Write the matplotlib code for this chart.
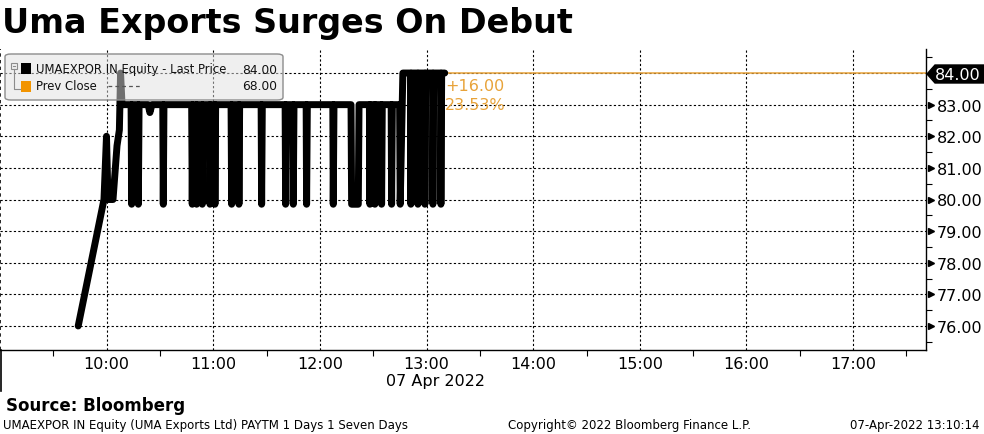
import matplotlib
matplotlib.use('Agg')
import matplotlib.pyplot as plt
import matplotlib.dates as mdates
import matplotlib.transforms as mtransforms
from matplotlib.patches import FancyBboxPatch, Rectangle, Polygon
from matplotlib.lines import Line2D
import pandas as pd

# ---- data ----
day = "2022-04-07"
times = [
    "09:44:00", "09:58:30", "09:59:55", "10:00:45", "10:03:35", "10:05:50",
    "10:07:10", "10:07:50", "10:08:40",
    "10:13:45", "10:14:05", "10:14:30",
    "10:17:30", "10:17:50", "10:18:15",
    "10:23:20", "10:24:20", "10:25:30",
    "10:31:35", "10:31:52", "10:32:15",
    "10:47:50", "10:48:10", "10:48:35",
    "10:50:20", "10:50:38", "10:51:00",
    "10:53:30", "10:53:48", "10:54:10",
    "10:57:50", "10:58:08", "10:58:30",
    "11:00:40", "11:00:56", "11:01:20",
    "11:10:00", "11:10:20", "11:10:45",
    "11:14:10", "11:14:26", "11:14:50",
    "11:26:55", "11:27:12", "11:27:35",
    "11:40:25", "11:40:42", "11:41:05",
    "11:44:45", "11:45:00", "11:45:25",
    "11:52:15", "11:52:30", "11:52:55",
    "12:07:15", "12:07:30", "12:07:55",
    "12:17:30", "12:17:50", "12:21:35", "12:22:00",
    "12:27:50", "12:28:08", "12:28:30",
    "12:30:40", "12:30:56", "12:31:20",
    "12:34:25", "12:34:42", "12:35:05",
    "12:40:05", "12:40:20", "12:40:45",
    "12:44:50", "12:45:10", "12:46:40",
    "12:50:55", "12:51:10", "12:51:35",
    "12:54:50", "12:55:08", "12:55:30",
    "12:58:50", "12:59:04", "12:59:30",
    "13:03:20", "13:03:34", "13:04:00",
    "13:07:50", "13:08:04", "13:08:30",
    "13:10:14",
]
prices = [
    76.0, 80.0, 82.0, 80.0, 80.0, 81.7,
    82.2, 84.0, 83.0,
    83.0, 79.85, 83.0,
    83.0, 79.85, 83.0,
    83.0, 82.75, 83.0,
    83.0, 79.85, 83.0,
    83.0, 79.85, 83.0,
    83.0, 79.85, 83.0,
    83.0, 79.85, 83.0,
    83.0, 79.85, 83.0,
    83.0, 79.85, 83.0,
    83.0, 79.85, 83.0,
    83.0, 79.85, 83.0,
    83.0, 79.85, 83.0,
    83.0, 79.85, 83.0,
    83.0, 79.85, 83.0,
    83.0, 79.85, 83.0,
    83.0, 79.85, 83.0,
    83.0, 79.85, 79.85, 83.0,
    83.0, 79.85, 83.0,
    83.0, 79.85, 83.0,
    83.0, 79.85, 83.0,
    83.0, 79.85, 83.0,
    83.0, 79.85, 84.0,
    84.0, 79.85, 84.0,
    84.0, 79.85, 84.0,
    84.0, 79.85, 84.0,
    84.0, 79.85, 84.0,
    84.0, 79.85, 84.0,
    84.0,
]
last_price = 84.00
prev_close = 68.00
change_txt = "+16.00"
change_pct_txt = "23.53%"
y_ticks = [76, 77, 78, 79, 80, 81, 82, 83, 84]
x_start, x_end = "09:00", "17:41"
y_lo, y_hi = 75.24, 84.76

title = "Uma Exports Surges On Debut"
legend_rows = [("UMAEXPOR IN Equity - Last Price", "84.00"), ("Prev Close", "68.00")]
source = "Source: Bloomberg"
footer_left = "UMAEXPOR IN Equity (UMA Exports Ltd) PAYTM 1 Days 1 Seven Days"
footer_mid = "Copyright\u00a9 2022 Bloomberg Finance L.P."
footer_right = "07-Apr-2022 13:10:14"
date_label = "07 Apr 2022"

ORANGE = '#e8a33a'
SQ_ORANGE = '#f29400'

W, H = 984, 435
fig = plt.figure(figsize=(W / 100, H / 100), dpi=100)
fig.patch.set_facecolor('white')


def fx(px):
    return px / W


def fy(py):
    return 1 - py / H


def ts(s):
    return pd.Timestamp(day + " " + s).to_pydatetime()


ax = fig.add_axes([0, fy(351), fx(926), (351 - 50) / H])
t = [ts(s) for s in times]

ax.plot(t, prices, color='black', lw=5.0, solid_joinstyle='round',
        solid_capstyle='round', zorder=3)
# last price line
ax.plot([t[-1], ts(x_end)], [last_price, last_price], color=ORANGE, lw=1.1, zorder=2)

ax.set_xlim(ts(x_start), ts(x_end))
ax.set_ylim(y_lo, y_hi)

# grid
ax.set_yticks(y_ticks)
ax.set_yticklabels(["%.2f" % v if v != last_price else "" for v in y_ticks])
ax.yaxis.set_minor_locator(matplotlib.ticker.MultipleLocator(0.5))
ax.xaxis.set_major_locator(mdates.HourLocator(byhour=range(10, 18)))
ax.xaxis.set_minor_locator(mdates.MinuteLocator(byminute=[30]))
ax.xaxis.set_major_formatter(mdates.DateFormatter('%H:%M'))
ax.grid(True, which='major', color='black', lw=0.8, ls=(0, (2, 2)), zorder=1)
ax.axvline(ts(x_start), color='black', lw=1.2, ls=(0, (2, 2)), zorder=1)
ax.set_axisbelow(True)

ax.yaxis.tick_right()
ax.tick_params(axis='y', which='major', length=0, pad=8, labelsize=11.5, colors='black')
ax.tick_params(axis='y', which='minor', length=4, width=0.8, direction='out')
ax.tick_params(axis='x', which='major', length=0, pad=4, labelsize=11.5)
ax.tick_params(axis='x', which='minor', length=4, width=0.8, direction='out')

for side in ['top', 'left']:
    ax.spines[side].set_visible(False)
for side in ['right', 'bottom']:
    ax.spines[side].set_linewidth(1.0)
    ax.spines[side].set_color('black')

# small triangles at right tick marks
tri = mtransforms.blended_transform_factory(ax.transAxes, ax.transData)
ax.plot([1.0055] * (len(y_ticks) - 1), y_ticks[:-1], ls='none', marker='>',
        ms=4.5, color='black', transform=tri, clip_on=False)

# last price tag
fig.add_artist(Polygon([(fx(927), fy(75)), (fx(935), fy(66)), (fx(984), fy(66)),
                        (fx(984), fy(84)), (fx(935), fy(84))],
                       closed=True, fc='black', ec='black', transform=fig.transFigure))
fig.text(fx(935), fy(75), "%.2f" % last_price, color='white', fontsize=11.5,
         va='center', ha='left')

# change annotation
ax.annotate(change_txt, xy=(t[-1], last_price), xytext=(0, -9), textcoords='offset points',
            color=ORANGE, fontsize=11.5, va='center', ha='left')
ax.annotate(change_pct_txt, xy=(t[-1], last_price), xytext=(0, -23), textcoords='offset points',
            color=ORANGE, fontsize=11.5, va='center', ha='left')

# legend box (semi transparent)
fig.add_artist(FancyBboxPatch((fx(5), fy(101)), fx(278), (101 - 55) / H,
                              boxstyle="round,pad=0,rounding_size=0.006",
                              fc=(0.88, 0.88, 0.88, 0.5), ec='#8c8c8c', lw=1,
                              transform=fig.transFigure))
fig.add_artist(Rectangle((fx(11), fy(70)), fx(6), 6 / H, fc='none', ec='#8c8c8c',
                         lw=0.8, transform=fig.transFigure))
fig.add_artist(Line2D([fx(12.5), fx(15.5)], [fy(67), fy(67)], color='#8c8c8c', lw=0.8))
fig.add_artist(Line2D([fx(14), fx(14), fx(20)], [fy(70), fy(90), fy(90)],
                      color='#8c8c8c', lw=0.8))
fig.add_artist(Rectangle((fx(21), fy(75)), fx(10), 11 / H, fc='black', ec='none',
                         transform=fig.transFigure))
fig.add_artist(Rectangle((fx(21), fy(93)), fx(10), 11 / H, fc=SQ_ORANGE, ec='none',
                         transform=fig.transFigure))
fig.add_artist(Line2D([fx(108), fx(141)], [fy(87), fy(87)], color='#555555', lw=0.9,
                      ls=(0, (3, 2.5))))
for (lab, val), yy in zip(legend_rows, [70, 87]):
    fig.text(fx(36), fy(yy), lab, fontsize=8.4, va='center', ha='left', color='#111111')
    fig.text(fx(277), fy(yy), val, fontsize=8.8, va='center', ha='right', color='#111111')

# title and footers
fig.text(fx(2), fy(23), title, fontsize=24, fontweight='bold', va='center', ha='left')
fig.text(fx(436), fy(382), date_label, fontsize=11.5, va='center', ha='center')
fig.add_artist(Line2D([fx(0.6), fx(0.6)], [fy(351), fy(392)], color='black', lw=1.2))
fig.text(fx(6), fy(406), source, fontsize=12, fontweight='bold', va='center', ha='left')
fig.text(fx(3), fy(426), footer_left, fontsize=8.5, va='center', ha='left')
fig.text(fx(508), fy(426), footer_mid, fontsize=8.5, va='center', ha='left')
fig.text(fx(980), fy(426), footer_right, fontsize=8.5, va='center', ha='right')

fig.savefig("out.png", dpi=100)
